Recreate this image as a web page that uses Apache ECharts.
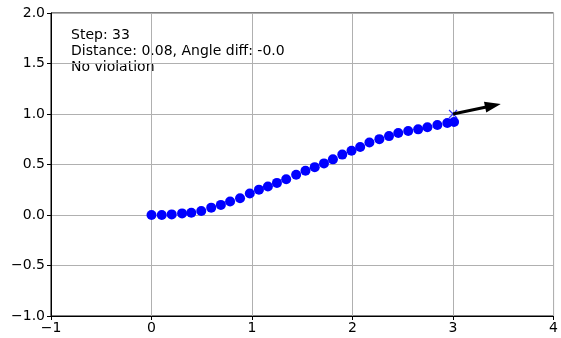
<!DOCTYPE html>
<html>
<head>
<meta charset="utf-8">
<script src="https://cdn.jsdelivr.net/npm/echarts@6/dist/echarts.min.js"></script>
<style>
  html, body { margin: 0; padding: 0; background: #fff; }
  #main { width: 561px; height: 338px; }
</style>
</head>
<body>
<div id="main"></div>
<script>
// path of the robot
var pathX = [0, 0.102, 0.201, 0.304, 0.396, 0.495, 0.594, 0.690, 0.782, 0.881, 0.978,
  1.069, 1.158, 1.248, 1.340, 1.439, 1.532, 1.624, 1.716, 1.805, 1.898, 1.990,
  2.076, 2.168, 2.267, 2.363, 2.455, 2.554, 2.653, 2.745, 2.844, 2.943, 3.01];
var pathY = [0, 0, 0.006, 0.016, 0.023, 0.04, 0.073, 0.1, 0.133, 0.165, 0.212,
  0.251, 0.282, 0.318, 0.354, 0.398, 0.438, 0.474, 0.511, 0.551, 0.598, 0.636,
  0.674, 0.718, 0.751, 0.781, 0.811, 0.831, 0.848, 0.868, 0.891, 0.911, 0.921];
var goal = [3.0, 1.0];
var arrowFrom = [3.0, 1.0];
var arrowTo = [3.475, 1.1];
var infoLines = ['Step: 33', 'Distance: 0.08, Angle diff: -0.0', 'No violation'];

var font = 'DejaVu Sans';
function minus(v) { return String(v).replace('-', '\u2212'); }

var pts = pathX.map(function (x, i) { return [x, pathY[i]]; });

var chart = echarts.init(document.getElementById('main'));
chart.setOption({
  animation: false,
  grid: { left: 51, right: 5, top: 13, bottom: 22, show: true, borderColor: '#000', borderWidth: 1, backgroundColor: 'transparent' },
  xAxis: {
    type: 'value', min: -1, max: 4, interval: 1,
    axisLine: { show: true, onZero: false, lineStyle: { color: '#000' } },
    axisTick: { show: true, length: 4, lineStyle: { color: '#000' } },
    axisLabel: { color: '#000', fontFamily: font, fontSize: 14, margin: 5, formatter: function (v) { return minus(v); } },
    splitLine: { show: true, lineStyle: { color: '#b0b0b0', width: 1 } }
  },
  yAxis: {
    type: 'value', min: -1, max: 2, interval: 0.5,
    axisLine: { show: true, onZero: false, lineStyle: { color: '#000' } },
    axisTick: { show: true, length: 4, lineStyle: { color: '#000' } },
    axisLabel: { color: '#000', fontFamily: font, fontSize: 14, margin: 6, formatter: function (v) { return minus(v.toFixed(1)); } },
    splitLine: { show: true, lineStyle: { color: '#b0b0b0', width: 1 } }
  },
  graphic: [{
    type: 'text', left: 71, top: 27,
    style: { text: infoLines.join('\n'), font: '14px "DejaVu Sans"', fill: '#000', lineHeight: 16 }
  }],
  series: [
    {
      type: 'scatter', data: [goal], symbol: 'path://M0,0L10,10M10,0L0,10', symbolSize: 8,
      itemStyle: { color: 'transparent', borderColor: '#0000ff', borderWidth: 1.2 }, z: 1
    },
    {
      type: 'scatter', data: pts, symbol: 'circle', symbolSize: 10,
      itemStyle: { color: '#0000ff', opacity: 1 }, z: 2
    },
    {
      type: 'custom', z: 3,
      data: [[arrowFrom[0], arrowFrom[1], arrowTo[0], arrowTo[1]]],
      renderItem: function (params, api) {
        var a = api.coord([api.value(0), api.value(1)]);
        var b = api.coord([api.value(2), api.value(3)]);
        var dx = b[0] - a[0], dy = b[1] - a[1];
        var len = Math.sqrt(dx * dx + dy * dy);
        var ux = dx / len, uy = dy / len, nx = -uy, ny = ux;
        var hl = 16, hw = 5.5, sw = 1.5;
        var bx = b[0] - ux * hl, by = b[1] - uy * hl;
        var poly = [
          [a[0] + nx * sw, a[1] + ny * sw],
          [bx + nx * sw, by + ny * sw],
          [bx + nx * hw, by + ny * hw],
          [b[0], b[1]],
          [bx - nx * hw, by - ny * hw],
          [bx - nx * sw, by - ny * sw],
          [a[0] - nx * sw, a[1] - ny * sw]
        ];
        return { type: 'polygon', shape: { points: poly }, style: { fill: '#000' } };
      }
    }
  ]
});
</script>
</body>
</html>
